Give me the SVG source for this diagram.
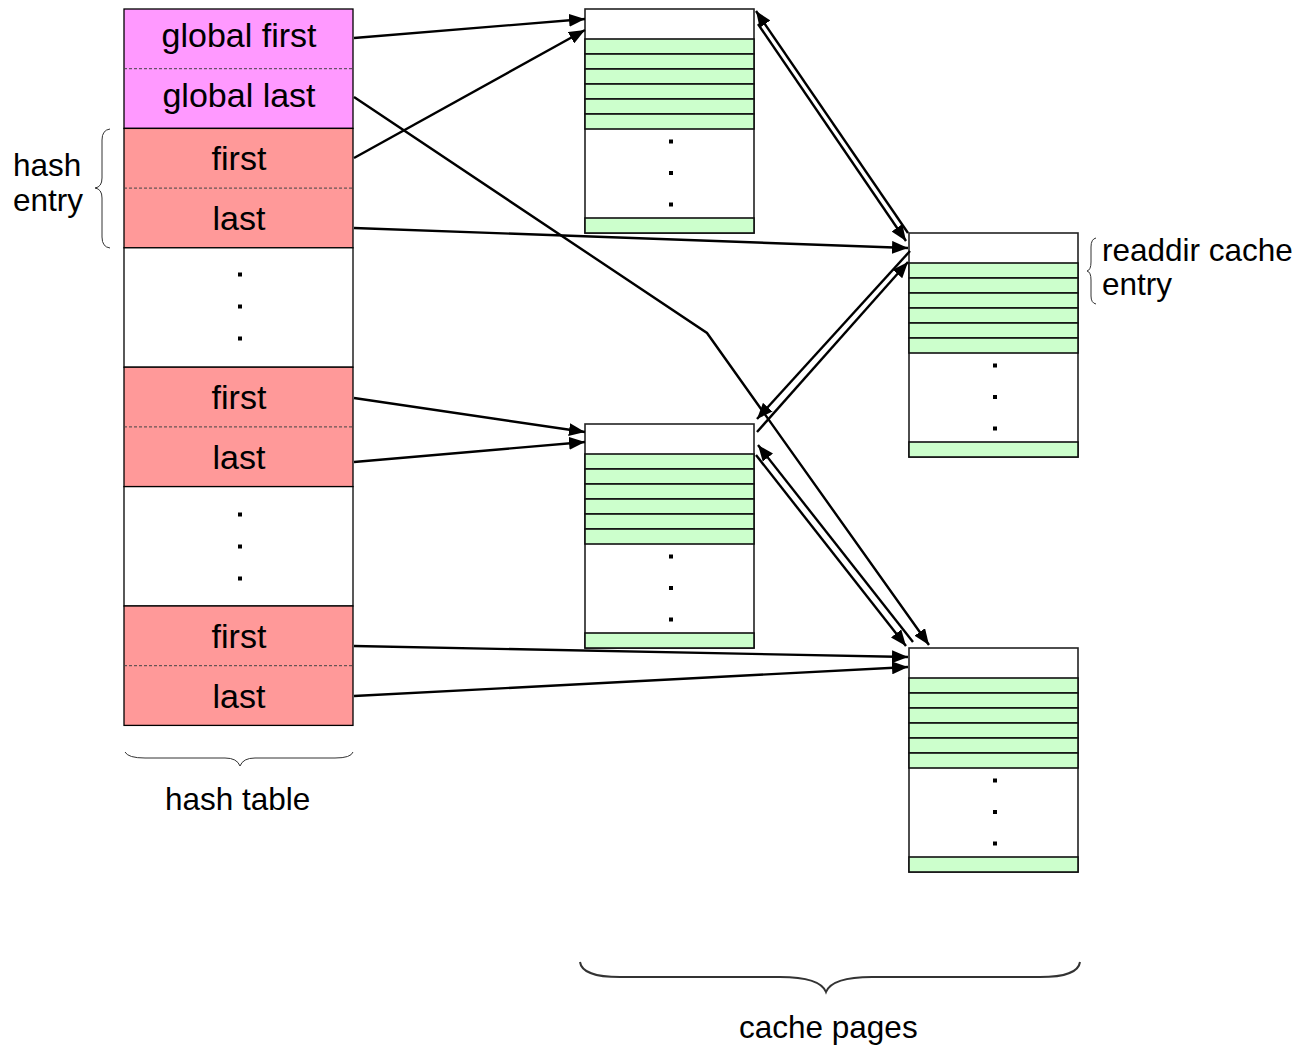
<svg xmlns="http://www.w3.org/2000/svg" width="1312" height="1050" viewBox="0 0 1312 1050">
<style>
text{font-family:"Liberation Sans",Arial,sans-serif;fill:#000}
.tl{font-size:34px;text-anchor:middle}
.lb{font-size:31.5px}
.mag{fill:#FF99FF;stroke:#000;stroke-width:1.3}
.sal{fill:#FF9999;stroke:#000;stroke-width:1.3}
.wht{fill:#fff;stroke:#000;stroke-width:1.3}
.dash{stroke:#444;stroke-width:1;stroke-dasharray:3 2;fill:none}
.pg{fill:#fff;stroke:#222;stroke-width:1.6}
.gr{fill:#CCFFCC;stroke:#111;stroke-width:1.6}
.dot{fill:#000}
.c{stroke:#000;stroke-width:2.4;fill:none;marker-end:url(#ah)}
.br{fill:none;stroke:#333}
</style>
<defs>
<marker id="ah" markerUnits="userSpaceOnUse" markerWidth="16" markerHeight="13" refX="16" refY="6.5" orient="auto">
<path d="M0,0 L16,6.5 L0,13 z" fill="#000"/>
</marker>
<g id="page">
<rect class="pg" x="0" y="0" width="169" height="224"/>
<rect class="gr" x="0" y="30" width="169" height="15"/>
<rect class="gr" x="0" y="45" width="169" height="15"/>
<rect class="gr" x="0" y="60" width="169" height="15"/>
<rect class="gr" x="0" y="75" width="169" height="15"/>
<rect class="gr" x="0" y="90" width="169" height="15"/>
<rect class="gr" x="0" y="105" width="169" height="15"/>
<rect class="gr" x="0" y="209" width="169" height="15"/>
<rect class="dot" x="84" y="130.5" width="4" height="4"/>
<rect class="dot" x="84" y="162" width="4" height="4"/>
<rect class="dot" x="84" y="193.5" width="4" height="4"/>
</g>
</defs>
<rect width="1312" height="1050" fill="#fff"/>

<g id="hash-table">
<rect class="mag" x="124" y="9" width="229" height="119.4"/>
<line class="dash" x1="124" y1="68.7" x2="353" y2="68.7"/>
<text class="tl" x="239" y="47">global first</text>
<text class="tl" x="239" y="107">global last</text>
<rect class="sal" x="124" y="128.4" width="229" height="119.4"/>
<line class="dash" x1="124" y1="188.1" x2="353" y2="188.1"/>
<text class="tl" x="239" y="170">first</text>
<text class="tl" x="239" y="230">last</text>
<rect class="wht" x="124" y="247.8" width="229" height="119.4"/>
<rect class="dot" x="238" y="272.5" width="4" height="4"/>
<rect class="dot" x="238" y="304.5" width="4" height="4"/>
<rect class="dot" x="238" y="336.5" width="4" height="4"/>
<rect class="sal" x="124" y="367.2" width="229" height="119.4"/>
<line class="dash" x1="124" y1="426.9" x2="353" y2="426.9"/>
<text class="tl" x="239" y="409">first</text>
<text class="tl" x="239" y="469">last</text>
<rect class="wht" x="124" y="486.6" width="229" height="119.4"/>
<rect class="dot" x="238" y="512.5" width="4" height="4"/>
<rect class="dot" x="238" y="544.5" width="4" height="4"/>
<rect class="dot" x="238" y="576.5" width="4" height="4"/>
<rect class="sal" x="124" y="606" width="229" height="119.4"/>
<line class="dash" x1="124" y1="665.7" x2="353" y2="665.7"/>
<text class="tl" x="239" y="648">first</text>
<text class="tl" x="239" y="708">last</text>
</g>

<g id="hash-entry-label">
<path class="br" stroke-width="1" d="M110,129 Q102,130 102,140 L102,178 Q102,187 95,188 Q102,189 102,198 L102,237 Q102,247 110,248"/>
<text class="lb" x="13" y="176">hash</text>
<text class="lb" x="13" y="211">entry</text>
</g>

<g id="page1"><use href="#page" x="585" y="9"/></g>
<g id="page-readdir"><use href="#page" x="909" y="233"/></g>
<g id="page2"><use href="#page" x="585" y="424"/></g>
<g id="page3"><use href="#page" x="909" y="648"/></g>

<g id="readdir-label">
<path class="br" stroke-width="1" d="M1096,238 Q1091,239 1091,247 L1091,262 Q1091,270 1087,271 Q1091,272 1091,280 L1091,296 Q1091,303 1096,304"/>
<text class="lb" x="1102" y="261">readdir cache</text>
<text class="lb" x="1102" y="295">entry</text>
</g>

<g id="hash-table-label">
<path class="br" stroke-width="1" d="M125,752 Q128,758 145,758 L225,758 Q237,758 240,766 Q243,758 255,758 L335,758 Q351,758 353,752"/>
<text class="lb" x="165" y="810">hash table</text>
</g>

<g id="cache-pages-label">
<path class="br" stroke-width="2" stroke="#000" d="M580,962 Q582,977 620,977 L780,977 Q820,977 826,992 Q832,977 872,977 L1040,977 Q1078,977 1080,962"/>
<text class="lb" x="739" y="1038">cache pages</text>
</g>

<g id="connectors">
<line class="c" x1="354" y1="38" x2="585" y2="19"/>
<line class="c" x1="354" y1="158" x2="585" y2="30"/>
<polyline class="c" points="354,97 707,333 929,645"/>
<line class="c" x1="354" y1="228" x2="908" y2="248"/>
<line class="c" x1="908" y1="233" x2="756" y2="11"/>
<line class="c" x1="758" y1="24" x2="906" y2="241"/>
<line class="c" x1="757" y1="432" x2="908" y2="262"/>
<line class="c" x1="910" y1="251" x2="757" y2="419"/>
<line class="c" x1="913" y1="642" x2="758" y2="445"/>
<line class="c" x1="756" y1="455" x2="906" y2="646"/>
<line class="c" x1="354" y1="398" x2="585" y2="432"/>
<line class="c" x1="354" y1="462" x2="585" y2="442"/>
<line class="c" x1="354" y1="646" x2="908" y2="657"/>
<line class="c" x1="354" y1="696" x2="908" y2="667"/>
</g>
</svg>
